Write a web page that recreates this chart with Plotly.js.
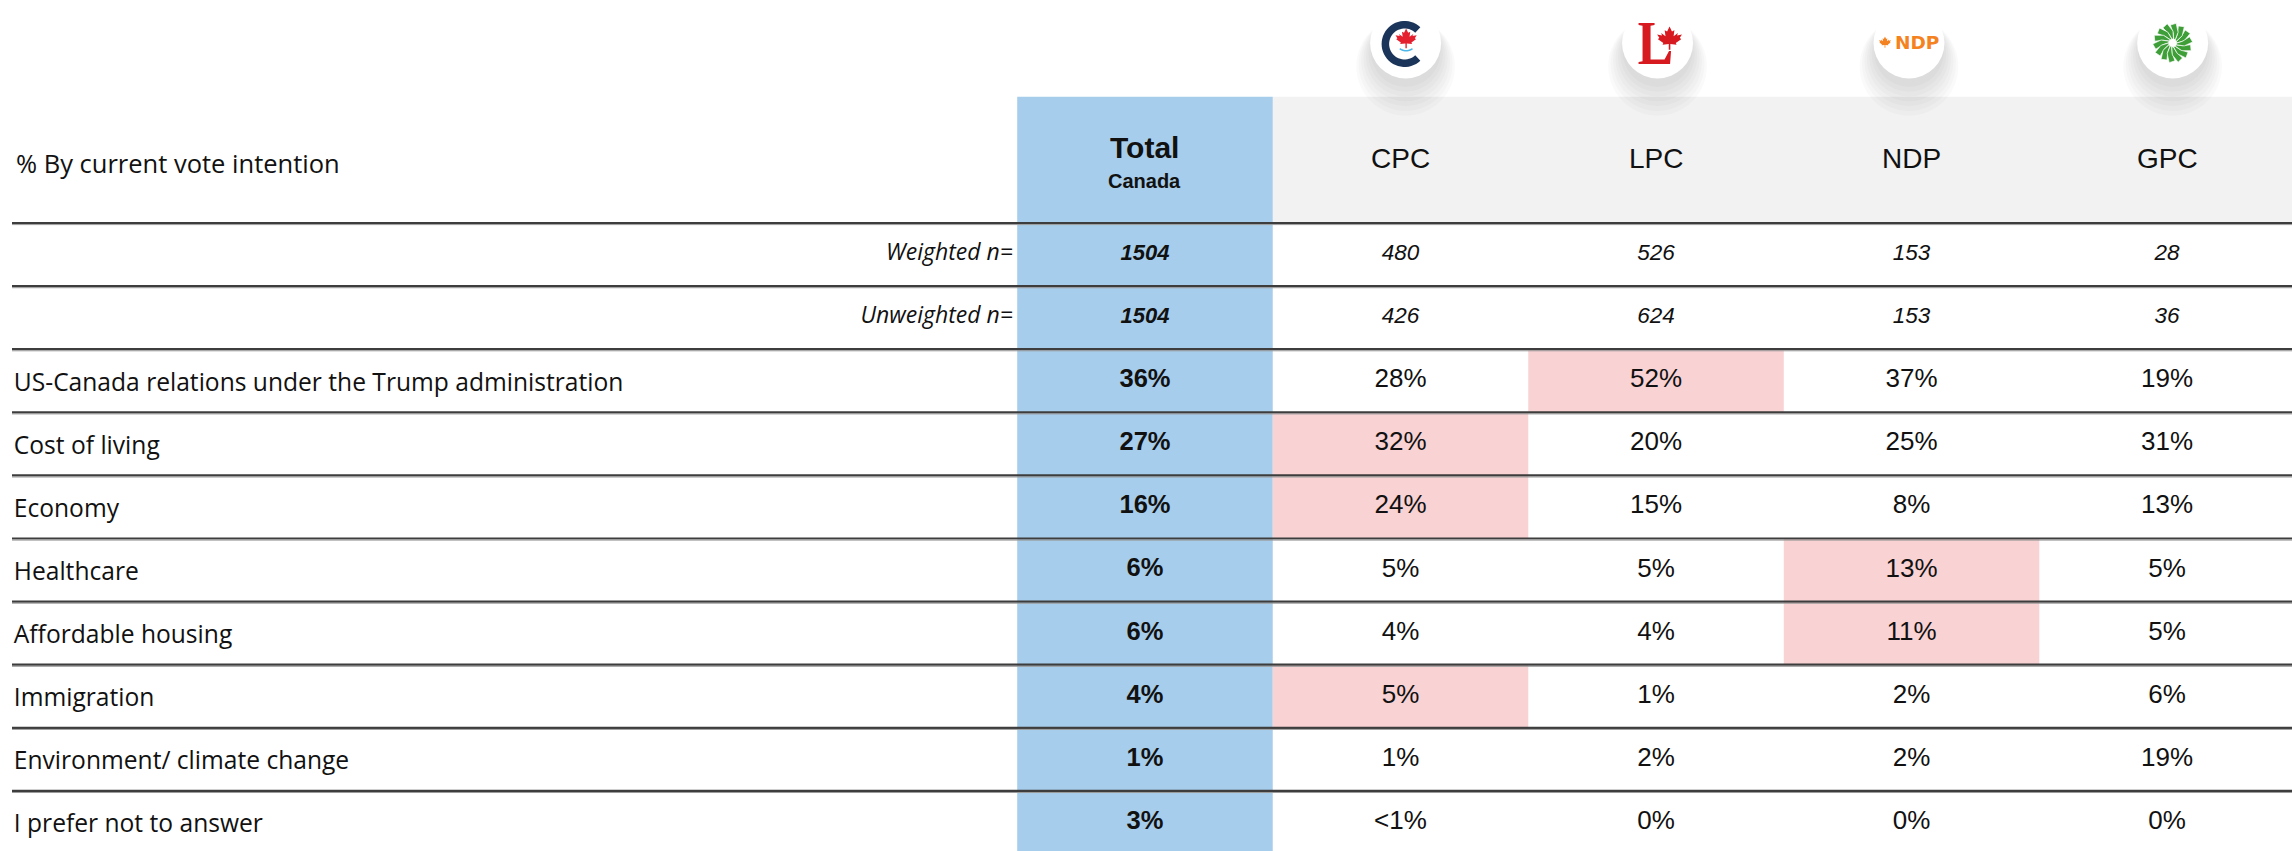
<!DOCTYPE html>
<html><head><meta charset="utf-8">
<script src="https://cdn.plot.ly/plotly-3.0.1.min.js"></script>
<style>html,body{margin:0;padding:0;background:#fff;overflow:hidden}#chart{width:2292px;height:851px}</style>
</head><body><div id="chart"></div>
<script>
// ---------------- DATA ----------------
const tableTitle = '% By current vote intention';
const totalHeader = 'Total';
const totalSubHeader = 'Canada';
const parties = ['CPC', 'LPC', 'NDP', 'GPC'];
const sampleLabels = ['Weighted n=', 'Unweighted n='];
const weightedN = ['1504', '480', '526', '153', '28'];     // Total, CPC, LPC, NDP, GPC
const unweightedN = ['1504', '426', '624', '153', '36'];
const issues = [
  'US-Canada relations under the Trump administration',
  'Cost of living',
  'Economy',
  'Healthcare',
  'Affordable housing',
  'Immigration',
  'Environment/ climate change',
  'I prefer not to answer'
];
const totalPct = ['36%', '27%', '16%', '6%', '6%', '4%', '1%', '3%'];
const cpcPct   = ['28%', '32%', '24%', '5%', '4%', '5%', '1%', '<1%'];
const lpcPct   = ['52%', '20%', '15%', '5%', '4%', '1%', '2%', '0%'];
const ndpPct   = ['37%', '25%', '8%', '13%', '11%', '2%', '2%', '0%'];
const gpcPct   = ['19%', '31%', '13%', '5%', '5%', '6%', '19%', '0%'];
const highlightParty = ['LPC', 'CPC', 'CPC', 'NDP', 'NDP', 'CPC', '', ''];

// ---------------- STYLE / LAYOUT CONSTANTS ----------------
const FONT = 'Liberation Sans, Arial, sans-serif';
const LFONT = 'Open Sans, Liberation Sans, sans-serif';
const BLUE = '#A6CDEB', PINK = '#F9D2D4', GREY = '#F2F2F2', INK = '#111111', RULE = '#3d3d3d';
const partyCols = parties.map((_, i) => i + 1);
const partyPct = [cpcPct, lpcPct, ndpPct, gpcPct];
const ISSUE_ROW0 = 2;
const LABEL_X = -4.427, NLABEL_X = -0.517, RULE_X0 = -4.434;
const LOGO_Y = -3.353;

const traces = [];
// issue labels
traces.push({type: 'scatter', mode: 'text', x: issues.map(() => LABEL_X), y: issues.map((_, i) => i + ISSUE_ROW0 + 0.06),
  text: issues, textposition: 'middle right', textfont: {family: LFONT, size: 24.6, color: INK}, hoverinfo: 'skip'});
// sample labels
traces.push({type: 'scatter', mode: 'text', x: sampleLabels.map(() => NLABEL_X), y: sampleLabels.map((_, i) => i),
  text: sampleLabels, textposition: 'middle left', textfont: {family: LFONT, size: 23, color: INK, style: 'italic'}, hoverinfo: 'skip'});
// sample sizes - total
traces.push({type: 'scatter', mode: 'text', x: [0, 0], y: [0, 1], text: [weightedN[0], unweightedN[0]],
  textposition: 'middle center', textfont: {family: FONT, size: 22, color: INK, style: 'italic', weight: 'bold'}, hoverinfo: 'skip'});
// sample sizes - parties
traces.push({type: 'scatter', mode: 'text',
  x: partyCols.concat(partyCols), y: partyCols.map(() => 0).concat(partyCols.map(() => 1)),
  text: weightedN.slice(1).concat(unweightedN.slice(1)),
  textposition: 'middle center', textfont: {family: FONT, size: 22.5, color: INK, style: 'italic'}, hoverinfo: 'skip'});
// total %
traces.push({type: 'scatter', mode: 'text', x: totalPct.map(() => 0), y: totalPct.map((_, i) => i + ISSUE_ROW0),
  text: totalPct, textposition: 'middle center', textfont: {family: FONT, size: 25.5, color: INK, weight: 'bold'}, hoverinfo: 'skip'});
// party %
partyPct.forEach((arr, p) => {
  traces.push({type: 'scatter', mode: 'text', x: arr.map(() => p + 1), y: arr.map((_, i) => i + ISSUE_ROW0),
    text: arr, textposition: 'middle center', textfont: {family: FONT, size: 26, color: INK}, hoverinfo: 'skip'});
});

// ---------------- SHAPES ----------------
const shapes = [];
// header backgrounds
shapes.push({type: 'rect', xref: 'x', yref: 'y', x0: 0.5, x1: 4.6, y0: -2.5, y1: -0.5, fillcolor: GREY, line: {width: 0}, layer: 'below'});
shapes.push({type: 'rect', xref: 'x', yref: 'y', x0: -0.5, x1: 0.5, y0: -2.5, y1: 10, fillcolor: BLUE, line: {width: 0}, layer: 'below'});
// highlighted cells
highlightParty.forEach((p, i) => {
  const c = parties.indexOf(p);
  if (c < 0) return;
  shapes.push({type: 'rect', xref: 'x', yref: 'y', x0: c + 0.5, x1: c + 1.5, y0: i + ISSUE_ROW0 - 0.5, y1: i + ISSUE_ROW0 + 0.5,
    fillcolor: PINK, line: {width: 0}, layer: 'below'});
});
// row rules
const nRows = sampleLabels.length + issues.length;
for (let k = 0; k < nRows; k++) {
  shapes.push({type: 'line', xref: 'x', yref: 'y', x0: RULE_X0, x1: 4.6, y0: k - 0.5, y1: k - 0.5, line: {color: RULE, width: 2.2}, layer: 'below'});
  shapes.push({type: 'line', xref: 'x', yref: 'y', ysizemode: 'pixel', yanchor: k - 0.5, x0: RULE_X0, x1: 4.6, y0: -1.6, y1: -1.6, line: {color: '#9a9a9a', width: 1}, layer: 'below'});
}

// ---------------- LOGOS (decorative) ----------------
function pxPath(xa, pts, fill, lineColor, lw) {
  const d = 'M' + pts.map(p => p[0].toFixed(2) + ' ' + p[1].toFixed(2)).join(' L') + ' Z';
  return {type: 'path', xref: 'x', yref: 'y', xsizemode: 'pixel', ysizemode: 'pixel', xanchor: xa, yanchor: LOGO_Y,
    path: d, fillcolor: fill, line: {width: lw || 0, color: lineColor || fill}, layer: 'above'};
}
function pxCircle(xa, cx, cy, r, fill) {
  return {type: 'circle', xref: 'x', yref: 'y', xsizemode: 'pixel', ysizemode: 'pixel', xanchor: xa, yanchor: LOGO_Y,
    x0: cx - r, x1: cx + r, y0: cy - r, y1: cy + r, fillcolor: fill, line: {width: 0}, layer: 'above'};
}
const leafUnit = [[0,1],[0.18,0.62],[0.36,0.72],[0.3,0.28],[0.62,0.52],[0.56,0.34],[0.92,0.4],[0.76,0.16],[0.86,0.06],
  [0.46,-0.22],[0.52,-0.36],[0.06,-0.3],[0.06,-0.72],[-0.06,-0.72],[-0.06,-0.3],[-0.52,-0.36],[-0.46,-0.22],[-0.86,0.06],
  [-0.76,0.16],[-0.92,0.4],[-0.56,0.34],[-0.62,0.52],[-0.3,0.28],[-0.36,0.72],[-0.18,0.62]];
function leaf(xa, cx, cy, s, color) { return pxPath(xa, leafUnit.map(p => [cx + p[0] * s, cy + p[1] * s]), color); }
function arc(cx, cy, r0, r1, a0, a1, n) {
  const pts = [];
  for (let i = 0; i <= n; i++) { const a = a0 + (a1 - a0) * i / n; pts.push([cx + r1 * Math.cos(a), cy + r1 * Math.sin(a)]); }
  for (let i = n; i >= 0; i--) { const a = a0 + (a1 - a0) * i / n; pts.push([cx + r0 * Math.cos(a), cy + r0 * Math.sin(a)]); }
  return pts;
}
const logoOffsets = [0.02, 0.006, -0.01, 0.022];
const annotations = [];
partyCols.forEach((c, i) => {
  const xa = c + logoOffsets[i];
  for (let k = 0; k < 7; k++) shapes.push(pxCircle(xa, 0, -9 - k * 2.4, 35 + k * 2.4, 'rgba(0,0,0,0.02)'));
  shapes.push(pxCircle(xa, 0, 0, 35.5, '#ffffff'));
});
// CPC
(function () {
  const xa = 1 + logoOffsets[0];
  shapes.push(pxPath(xa, arc(-1, -1, 15.5, 23, Math.PI * 0.26, Math.PI * 1.74, 40), '#1B3459'));
  shapes.push(leaf(xa, 0.5, 3, 11.5, '#E4202F'));
  shapes.push(pxPath(xa, arc(0.5, 3, 10, 11.6, Math.PI * 1.3, Math.PI * 1.7, 12), '#4CB7E8'));
})();
// LPC
(function () {
  const xa = 2 + logoOffsets[1];
  const L = [[-19,20],[-3,20],[-3,18],[-7,17.3],[-7,-16.5],[7,-16.5],[11.5,-8],[13.5,-8],[12.5,-21],[-19,-21],[-19,-19],[-15,-18.2],[-15,17.3],[-19,18]];
  shapes.push(pxPath(xa, L, '#D71920'));
  shapes.push(leaf(xa, 12, 3, 13.5, '#D71920'));
})();
// NDP
(function () {
  const xa = 3 + logoOffsets[2];
  shapes.push(leaf(xa, -24, 0, 6.5, '#F58220'));
  annotations.push({xref: 'x', yref: 'y', x: xa, y: LOGO_Y, xshift: 8, yshift: 0, text: 'NDP', showarrow: false,
    font: {family: 'DejaVu Sans, sans-serif', size: 18.5, color: '#F58220', weight: 'bold'}});
})();
// GPC
(function () {
  const xa = 4 + logoOffsets[3];
  const pol = (r, a) => [r * Math.cos(a), r * Math.sin(a)];
  const n = 14;
  for (let k = 0; k < n; k++) {
    const a = k * 2 * Math.PI / n;
    shapes.push(pxPath(xa, [pol(4, a), pol(12, a + 0.2), pol(20, a + 0.5), pol(18, a + 0.8), pol(10, a + 0.62), pol(4, a + 0.4)],
      '#3E9E38', '#ffffff', 0.7));
  }
  shapes.push(pxCircle(xa, 0, 0, 3.2, '#ffffff'));
})();

// ---------------- HEADER TEXT ----------------
annotations.push({xref: 'x', yref: 'y', x: LABEL_X, y: -1.45, xanchor: 'left', yanchor: 'middle', text: tableTitle, showarrow: false,
  font: {family: LFONT, size: 25.5, color: INK}});
annotations.push({xref: 'x', yref: 'y', x: 0, y: -1.69, xanchor: 'center', yanchor: 'middle', text: totalHeader, showarrow: false,
  font: {family: FONT, size: 30, color: INK, weight: 'bold'}});
annotations.push({xref: 'x', yref: 'y', x: 0, y: -1.17, xanchor: 'center', yanchor: 'middle', text: totalSubHeader, showarrow: false,
  font: {family: FONT, size: 20, color: INK, weight: 'bold'}});
parties.forEach((p, i) => {
  annotations.push({xref: 'x', yref: 'y', x: i + 1, y: -1.53, xanchor: 'center', yanchor: 'middle', text: p, showarrow: false,
    font: {family: FONT, size: 28, color: INK}});
});

const layout = {
  width: 2292, height: 851, margin: {l: 0, r: 0, t: 0, b: 0},
  paper_bgcolor: '#ffffff', plot_bgcolor: '#ffffff', showlegend: false,
  xaxis: {range: [-4.481, 4.489], visible: false, fixedrange: true, zeroline: false, showgrid: false},
  yaxis: {range: [9.452, -4.034], visible: false, fixedrange: true, zeroline: false, showgrid: false},
  shapes: shapes, annotations: annotations
};
Plotly.newPlot('chart', traces, layout, {staticPlot: true, displayModeBar: false});
</script></body></html>
